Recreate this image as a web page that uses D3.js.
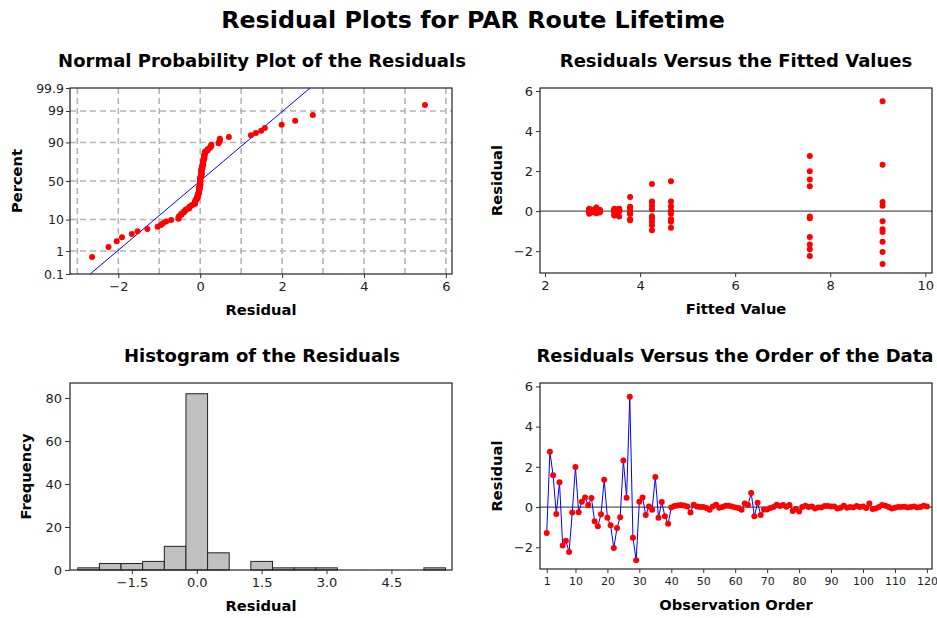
<!DOCTYPE html>
<html>
<head>
<meta charset="utf-8">
<script src="https://cdn.jsdelivr.net/npm/d3@7"></script>
<style>
  body { margin: 0; background: #fff; }
  svg { display: block; font-family: "DejaVu Sans", sans-serif; }
  .tick text { fill: #222; }
</style>
</head>
<body>
<script>
// residuals in observation order (1..120)
const residuals = [
  -1.29, 2.75, 1.58, -0.35, 1.24, -1.91, -1.67, -2.24, -0.27, 1.99,
  -0.26, 0.27, 0.48, 0.10, 0.45, -0.71, -0.96, -0.36, 1.36, -0.53,
  -0.91, -2.04, -1.04, -0.51, 2.32, 0.46, 5.49, -1.53, -2.64, 0.27,
  0.48, -0.40, 0.03, -0.13, 1.49, -0.53, 0.25, -0.46, -0.83, -0.02,
  0.05, 0.08, 0.10, 0.08, 0.03, -0.27, 0.12, 0.03, 0.00, 0.00,
  -0.05, -0.13, 0.03, 0.12, -0.03, 0.00, 0.07, 0.07, 0.03, -0.02,
  -0.05, -0.13, 0.18, 0.10, 0.70, -0.46, 0.22, -0.40, -0.12, -0.12,
  -0.05, 0.00, 0.12, 0.05, 0.10, 0.02, 0.10, -0.20, -0.10, -0.22,
  0.00, 0.07, 0.00, 0.03, -0.07, -0.02, -0.02, 0.05, 0.05, 0.03,
  0.03, -0.07, -0.03, 0.07, -0.03, 0.00, -0.02, 0.05, 0.00, 0.03,
  -0.05, 0.18, -0.10, -0.07, 0.00, 0.10, 0.07, 0.00, -0.07, -0.03,
  0.00, 0.00, 0.02, -0.02, 0.00, 0.03, -0.02, 0.00, 0.07, 0.03
];

// fitted value for each observation
const fitted = [
  7.57, 7.57, 7.57, 7.57, 7.57, 7.57, 7.57, 7.57, 7.57, 7.57,
  4.25, 4.25, 4.25, 4.25, 4.25, 4.25, 4.25, 4.25, 4.25, 4.25,
  9.10, 9.10, 9.10, 9.10, 9.10, 9.10, 9.10, 9.10, 9.10, 9.10,
  4.65, 4.65, 4.65, 4.65, 4.65, 4.65, 4.65, 4.65, 4.65, 4.65,
  3.56, 3.56, 3.56, 3.56, 3.56, 3.56, 3.56, 3.56, 3.56, 3.56,
  2.93, 2.93, 2.93, 2.93, 2.93, 2.93, 2.93, 2.93, 2.93, 2.93,
  3.79, 3.79, 3.79, 3.79, 3.79, 3.79, 3.79, 3.79, 3.79, 3.79,
  3.46, 3.46, 3.46, 3.46, 3.46, 3.46, 3.46, 3.46, 3.46, 3.46,
  2.98, 2.98, 2.98, 2.98, 2.98, 2.98, 2.98, 2.98, 2.98, 2.98,
  3.15, 3.15, 3.15, 3.15, 3.15, 3.15, 3.15, 3.15, 3.15, 3.15,
  3.08, 3.08, 3.08, 3.08, 3.08, 3.08, 3.08, 3.08, 3.08, 3.08,
  3.03, 3.03, 3.03, 3.03, 3.03, 3.03, 3.03, 3.03, 3.03, 3.03
];

// histogram bins (centres, width 0.5) and frequencies
const binCenters = [-2.5, -2, -1.5, -1, -0.5, 0, 0.5, 1, 1.5, 2, 2.5, 3, 3.5, 4, 4.5, 5, 5.5];
const binCounts = [1, 3, 3, 4, 11, 82, 8, 0, 4, 1, 1, 1, 0, 0, 0, 0, 1];
const binWidth = 0.5;

const percentTicks = [0.1, 1, 10, 50, 90, 99, 99.9];
const probXTicks = [-2, 0, 2, 4, 6];
const probGrid = [-3, -2, -1, 0, 1, 2, 3, 4, 5, 6];
const fittedTicks = [2, 4, 6, 8, 10];
const residTicks = [-2, 0, 2, 4, 6];
const histXTicks = [-1.5, 0, 1.5, 3, 4.5];
const histYTicks = [0, 20, 40, 60, 80];
const orderTicks = [1, 10, 20, 30, 40, 50, 60, 70, 80, 90, 100, 110, 120];

const W = 937, H = 618;
const RED = "#ff0000", BLUE = "#0000ff";

// inverse normal cdf (Acklam)
function qnorm(p) {
  const a = [-3.969683028665376e1, 2.209460984245205e2, -2.759285104469687e2, 1.38357751867269e2, -3.066479806614716e1, 2.506628277459239];
  const b = [-5.447609879822406e1, 1.615858368580409e2, -1.556989798598866e2, 6.680131188771972e1, -1.328068155288572e1];
  const c = [-7.784894002430293e-3, -3.223964580411365e-1, -2.400758277161838, -2.549732539343734, 4.374664141464968, 2.938163982698783];
  const d = [7.784695709041462e-3, 3.224671290700398e-1, 2.445134137142996, 3.754408661907416];
  const pl = 0.02425;
  let q, r;
  if (p < pl) {
    q = Math.sqrt(-2 * Math.log(p));
    return (((((c[0] * q + c[1]) * q + c[2]) * q + c[3]) * q + c[4]) * q + c[5]) /
      ((((d[0] * q + d[1]) * q + d[2]) * q + d[3]) * q + 1);
  } else if (p <= 1 - pl) {
    q = p - 0.5; r = q * q;
    return (((((a[0] * r + a[1]) * r + a[2]) * r + a[3]) * r + a[4]) * r + a[5]) * q /
      (((((b[0] * r + b[1]) * r + b[2]) * r + b[3]) * r + b[4]) * r + 1);
  }
  q = Math.sqrt(-2 * Math.log(1 - p));
  return -(((((c[0] * q + c[1]) * q + c[2]) * q + c[3]) * q + c[4]) * q + c[5]) /
    ((((d[0] * q + d[1]) * q + d[2]) * q + d[3]) * q + 1);
}

const svg = d3.select("body").append("svg").attr("width", W).attr("height", H);

svg.append("text")
  .attr("x", 473).attr("y", 28)
  .attr("text-anchor", "middle")
  .attr("font-size", "23.8px").attr("font-weight", "bold")
  .text("Residual Plots for PAR Route Lifetime");

function panel(box, title, xLabel, yLabel, yLabelX, titleCx) {
  const g = svg.append("g");
  g.append("text")
    .attr("x", titleCx).attr("y", box.y0 - 21)
    .attr("text-anchor", "middle")
    .attr("font-size", "18px").attr("font-weight", "bold")
    .text(title);
  g.append("text")
    .attr("x", (box.x0 + box.x1) / 2).attr("y", box.y1 + 41)
    .attr("text-anchor", "middle")
    .attr("font-size", "14.7px").attr("font-weight", "bold")
    .text(xLabel);
  g.append("text")
    .attr("transform", `translate(${yLabelX},${(box.y0 + box.y1) / 2}) rotate(-90)`)
    .attr("dy", "0.35em")
    .attr("text-anchor", "middle")
    .attr("font-size", "14.7px").attr("font-weight", "bold")
    .text(yLabel);
  return g;
}

function frame(g, box) {
  g.append("rect")
    .attr("x", box.x0).attr("y", box.y0)
    .attr("width", box.x1 - box.x0).attr("height", box.y1 - box.y0)
    .attr("fill", "none").attr("stroke", "#222").attr("stroke-width", 1.2);
}

function styleAxis(sel, size) {
  sel.select(".domain").remove();
  sel.selectAll(".tick line").attr("stroke", "#333");
  sel.selectAll(".tick text").attr("font-size", size || "13px").attr("font-family", "DejaVu Sans, sans-serif");
}

// ---------- Normal probability plot ----------
{
  const box = { x0: 70, x1: 452, y0: 88, y1: 274 };
  const g = panel(box, "Normal Probability Plot of the Residuals", "Residual", "Percent", 17, 262);
  const x = d3.scaleLinear().domain([-3.18, 6.15]).range([box.x0, box.x1]);
  const zMax = qnorm(0.999);
  const y = d3.scaleLinear().domain([-zMax, zMax]).range([box.y1, box.y0]);

  const grid = g.append("g").attr("stroke", "#b4b4b4").attr("stroke-width", 1.6).attr("stroke-dasharray", "6,4");
  grid.selectAll(".vg").data(probGrid).join("line")
    .attr("x1", (d) => x(d)).attr("x2", (d) => x(d))
    .attr("y1", box.y0).attr("y2", box.y1);
  grid.selectAll(".hg").data(percentTicks.slice(1, -1)).join("line")
    .attr("x1", box.x0).attr("x2", box.x1)
    .attr("y1", (d) => y(qnorm(d / 100))).attr("y2", (d) => y(qnorm(d / 100)));

  // fitted normal line
  const mu = d3.mean(residuals), sd = d3.deviation(residuals);
  g.append("line")
    .attr("x1", x(mu - sd * zMax)).attr("y1", y(-zMax))
    .attr("x2", x(mu + sd * zMax)).attr("y2", y(zMax))
    .attr("stroke", BLUE).attr("stroke-width", 1);

  const n = residuals.length;
  const sorted = residuals.slice().sort(d3.ascending);
  g.selectAll(".pt").data(sorted).join("circle")
    .attr("cx", (d) => x(d))
    .attr("cy", (d, i) => y(qnorm((i + 1 - 0.3) / (n + 0.4))))
    .attr("r", 3).attr("fill", RED);

  frame(g, box);
  g.append("g").attr("transform", `translate(0,${box.y1})`)
    .call(d3.axisBottom(x).tickValues(probXTicks).tickSize(4).tickPadding(4).tickFormat(d3.format("d")))
    .call((s) => styleAxis(s));
  g.append("g").attr("transform", `translate(${box.x0},0)`)
    .call(d3.axisLeft(y).tickValues(percentTicks.map((p) => qnorm(p / 100))).tickSize(4).tickPadding(2)
      .tickFormat((d, i) => String(percentTicks[i])))
    .call((s) => styleAxis(s, "12.5px"));
}

// ---------- Residuals vs fitted ----------
{
  const box = { x0: 540, x1: 932, y0: 88, y1: 273 };
  const g = panel(box, "Residuals Versus the Fitted Values", "Fitted Value", "Residual", 497, 736);
  const x = d3.scaleLinear().domain([1.895, 10.14]).range([box.x0, box.x1]);
  const y = d3.scaleLinear().domain([-3.09, 6.15]).range([box.y1, box.y0]);

  g.append("line")
    .attr("x1", box.x0).attr("x2", box.x1)
    .attr("y1", y(0)).attr("y2", y(0))
    .attr("stroke", "#555").attr("stroke-width", 1.2);

  g.selectAll(".pt").data(residuals).join("circle")
    .attr("cx", (d, i) => x(fitted[i]))
    .attr("cy", (d) => y(d))
    .attr("r", 3).attr("fill", RED);

  frame(g, box);
  g.append("g").attr("transform", `translate(0,${box.y1})`)
    .call(d3.axisBottom(x).tickValues(fittedTicks).tickSize(4).tickPadding(4))
    .call((s) => styleAxis(s));
  g.append("g").attr("transform", `translate(${box.x0},0)`)
    .call(d3.axisLeft(y).tickValues(residTicks).tickSize(4).tickPadding(3))
    .call((s) => styleAxis(s));
}

// ---------- Histogram ----------
{
  const box = { x0: 70, x1: 452, y0: 383, y1: 570 };
  const g = panel(box, "Histogram of the Residuals", "Residual", "Frequency", 26, 262);
  const x = d3.scaleLinear().domain([-2.93, 5.9]).range([box.x0, box.x1]);
  const y = d3.scaleLinear().domain([0, 87]).range([box.y1, box.y0]);

  g.selectAll(".bar").data(binCenters).join("rect")
    .attr("x", (d) => x(d - binWidth / 2))
    .attr("width", (d) => x(d + binWidth / 2) - x(d - binWidth / 2))
    .attr("y", (d, i) => y(binCounts[i]))
    .attr("height", (d, i) => y(0) - y(binCounts[i]))
    .attr("fill", "#c0c0c0").attr("stroke", "#222").attr("stroke-width", 1);

  frame(g, box);
  g.append("g").attr("transform", `translate(0,${box.y1})`)
    .call(d3.axisBottom(x).tickValues(histXTicks).tickSize(4).tickPadding(4).tickFormat(d3.format(".1f")))
    .call((s) => styleAxis(s));
  g.append("g").attr("transform", `translate(${box.x0},0)`)
    .call(d3.axisLeft(y).tickValues(histYTicks).tickSize(5).tickPadding(3))
    .call((s) => styleAxis(s));
}

// ---------- Residuals vs order ----------
{
  const box = { x0: 540, x1: 932, y0: 383, y1: 569 };
  const g = panel(box, "Residuals Versus the Order of the Data", "Observation Order", "Residual", 497, 735);
  const x = d3.scaleLinear().domain([-1.1, 121.6]).range([box.x0, box.x1]);
  const y = d3.scaleLinear().domain([-3.08, 6.17]).range([box.y1, box.y0]);

  g.append("line")
    .attr("x1", box.x0).attr("x2", box.x1)
    .attr("y1", y(0)).attr("y2", y(0))
    .attr("stroke", "#555").attr("stroke-width", 1.2);

  g.append("path")
    .datum(residuals)
    .attr("d", d3.line().x((d, i) => x(i + 1)).y((d) => y(d)))
    .attr("fill", "none").attr("stroke", BLUE).attr("stroke-width", 1);

  g.selectAll(".pt").data(residuals).join("circle")
    .attr("cx", (d, i) => x(i + 1))
    .attr("cy", (d) => y(d))
    .attr("r", 3).attr("fill", RED);

  frame(g, box);
  g.append("g").attr("transform", `translate(0,${box.y1})`)
    .call(d3.axisBottom(x).tickValues(orderTicks).tickSize(4).tickPadding(4))
    .call((s) => styleAxis(s, "11px"));
  g.append("g").attr("transform", `translate(${box.x0},0)`)
    .call(d3.axisLeft(y).tickValues(residTicks).tickSize(4).tickPadding(3))
    .call((s) => styleAxis(s));
}
</script>
</body>
</html>
